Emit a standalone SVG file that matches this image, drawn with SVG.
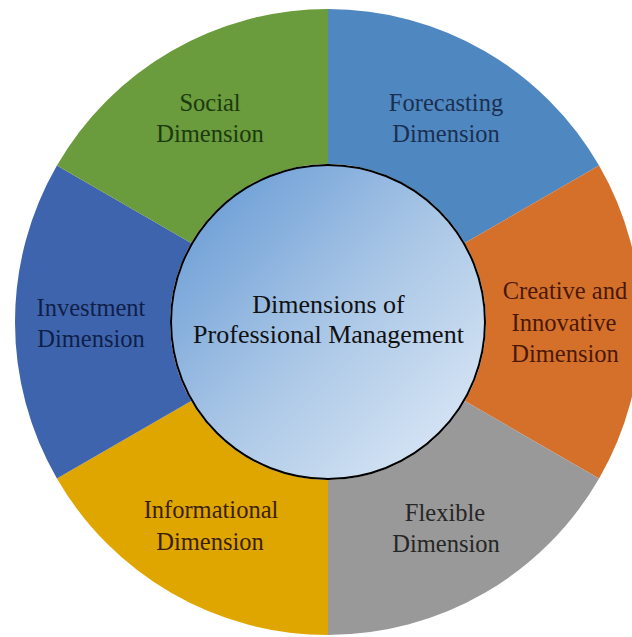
<svg xmlns="http://www.w3.org/2000/svg" width="632" height="637" viewBox="0 0 632 637">
<defs>
<linearGradient id="hub" x1="0" y1="0" x2="1" y2="1">
<stop offset="0" stop-color="#5f95d3"/>
<stop offset="0.5" stop-color="#a9c6e6"/>
<stop offset="1" stop-color="#e3edf8"/>
</linearGradient>
<style>
.seg{stroke:none}
.lbl{font-family:'Liberation Serif','Times New Roman',serif;font-size:24.5px;text-anchor:middle}
.hubt{font-family:'Liberation Serif','Times New Roman',serif;font-size:26px;text-anchor:middle;fill:#111}
</style>
</defs>
<rect width="632" height="637" fill="#ffffff"/>
<g id="forecasting">
<path class="seg" fill="#4f88c1" d="M328 9 A313 313 0 0 1 599.07 165.5 L464.83 243 A158 158 0 0 0 328 164 Z"/>
<text class="lbl" fill="#1b2f50"><tspan x="446" y="111">Forecasting</tspan><tspan x="446" y="142">Dimension</tspan></text>
</g>
<g id="creative">
<path class="seg" fill="#d5702a" d="M599.07 165.5 A313 313 0 0 1 599.07 478.5 L464.83 401 A158 158 0 0 0 464.83 243 Z"/>
<text class="lbl" fill="#4a1808"><tspan x="565" y="299">Creative and</tspan><tspan x="564" y="331">Innovative</tspan><tspan x="565" y="362">Dimension</tspan></text>
</g>
<g id="flexible">
<path class="seg" fill="#999999" d="M599.07 478.5 A313 313 0 0 1 328 635 L328 480 A158 158 0 0 0 464.83 401 Z"/>
<text class="lbl" fill="#262626"><tspan x="445" y="521">Flexible</tspan><tspan x="446" y="552">Dimension</tspan></text>
</g>
<g id="informational">
<path class="seg" fill="#e0a600" d="M328 635 A313 313 0 0 1 56.93 478.5 L191.17 401 A158 158 0 0 0 328 480 Z"/>
<text class="lbl" fill="#3a1f05"><tspan x="211" y="518">Informational</tspan><tspan x="210" y="550">Dimension</tspan></text>
</g>
<g id="investment">
<path class="seg" fill="#3f64ae" d="M56.93 478.5 A313 313 0 0 1 56.93 165.5 L191.17 243 A158 158 0 0 0 191.17 401 Z"/>
<text class="lbl" fill="#0f1f48"><tspan x="91" y="316">Investment</tspan><tspan x="91" y="347">Dimension</tspan></text>
</g>
<g id="social">
<path class="seg" fill="#6a9b3c" d="M56.93 165.5 A313 313 0 0 1 328 9 L328 164 A158 158 0 0 0 191.17 243 Z"/>
<text class="lbl" fill="#1c3a0e"><tspan x="210" y="111">Social</tspan><tspan x="210" y="142">Dimension</tspan></text>
</g>
<g id="hub-node">
<circle cx="328" cy="322" r="157" fill="url(#hub)" stroke="#000" stroke-width="2"/>
<text class="hubt"><tspan x="328.5" y="313">Dimensions of</tspan><tspan x="328.5" y="343">Professional Management</tspan></text>
</g>
<g id="connectors"/>
</svg>
